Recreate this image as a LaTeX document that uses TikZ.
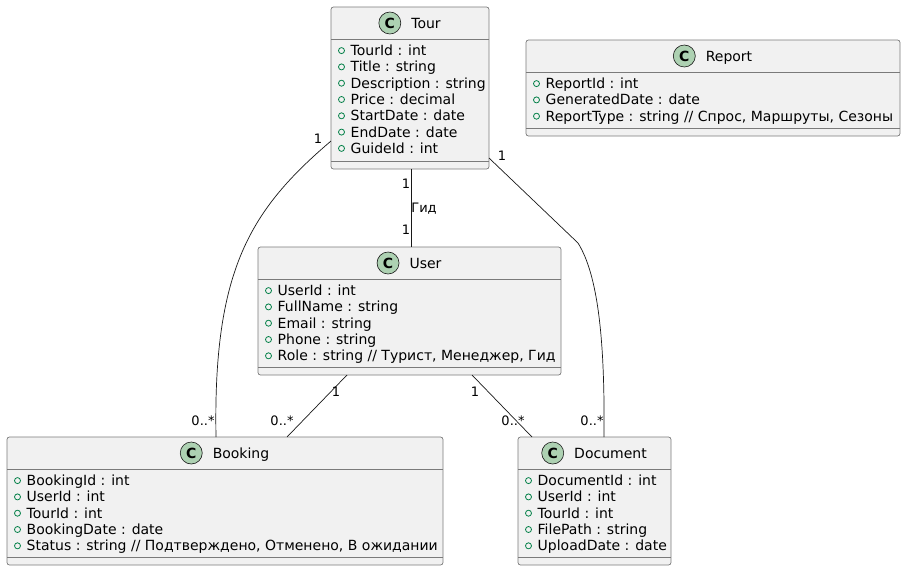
\documentclass[tikz,border=0pt]{standalone}
\usepackage{fontspec}
\setmainfont{DejaVu Sans}
\usetikzlibrary{positioning}

\definecolor{boxfill}{HTML}{F1F1F1}
\definecolor{boxline}{HTML}{7A7A7A}
\definecolor{iconline}{HTML}{181818}
\definecolor{iconfill}{HTML}{ADD1B2}
\definecolor{markgreen}{HTML}{038048}
\definecolor{assocline}{HTML}{181818}

\tikzset{
  umlbox/.style={rectangle, draw=boxline, fill=boxfill, line width=0.7pt,
    rounded corners=2.5pt, inner sep=0pt, outer sep=0pt},
  boxsep/.style={draw=boxline, line width=0.7pt},
  clsname/.style={anchor=base, inner sep=0pt, text height=10.2pt, text depth=0pt,
    font=\fontsize{14}{16}\selectfont},
  clsicon/.style={circle, draw=iconline, fill=iconfill, line width=0.6pt,
    minimum size=22pt, inner sep=0pt, font=\fontsize{14}{16}\selectfont\bfseries},
  attr/.style={anchor=base west, inner sep=0pt, font=\fontsize{14}{16}\selectfont},
  attrmark/.style={draw=markgreen, line width=0.8pt},
  assoc/.style={draw=assocline, line width=0.7pt},
  mult/.style={inner sep=0pt, text height=9.5pt, text depth=0pt,
    font=\fontsize{13}{15}\selectfont},
}

% header, separators and attributes of a class box
\newcommand{\classparts}[3]{%
  \draw[boxsep] ([yshift=-32pt]#1.north west) -- ([yshift=-32pt]#1.north east);
  \draw[boxsep] ([yshift=8pt]#1.south west) -- ([yshift=8pt]#1.south east);
  \node[clsname] (#1-name) at ([xshift=16pt, yshift=-21.1pt]#1.north) {#2};
  \node[clsicon, left=10pt of #1-name] (#1-icon) {C};
  \foreach [count=\i, evaluate=\i as \dy using 48.6+(\i-1)*16.3] \a in {#3} {
    \node[attr] (#1-a\i) at ([xshift=19.5pt, yshift=-\dy pt]#1.north west) {\a};
    \draw[attrmark] ([xshift=-9pt, yshift=5pt]#1-a\i.base west) circle (3pt);
  }%
}

\begin{document}
\begin{tikzpicture}[x=1pt, y=-1pt]
  \useasboundingbox (0,0) rectangle (906,571);

  % classes
  \node[umlbox, minimum width=158pt, minimum height=162pt] (tour) at (410,88) {};
  \node[umlbox, minimum width=374pt, minimum height=96pt] (report) at (713,88) {};
  \node[umlbox, minimum width=303pt, minimum height=128pt] (user) at (409.5,311) {};
  \node[umlbox, minimum width=436pt, minimum height=128pt] (booking) at (225,501) {};
  \node[umlbox, minimum width=153pt, minimum height=128pt] (document) at (594.5,501) {};

  \classparts{tour}{Tour}{TourId : int, Title : string, Description : string,
    Price : decimal, StartDate : date, EndDate : date, GuideId : int}
  \classparts{report}{Report}{ReportId : int, GeneratedDate : date,
    {ReportType : string // Спрос, Маршруты, Сезоны}}
  \classparts{user}{User}{UserId : int, FullName : string, Email : string,
    Phone : string, {Role : string // Турист, Менеджер, Гид}}
  \classparts{booking}{Booking}{BookingId : int, UserId : int, TourId : int,
    BookingDate : date, {Status : string // Подтверждено, Отменено, В ожидании}}
  \classparts{document}{Document}{DocumentId : int, UserId : int, TourId : int,
    FilePath : string, UploadDate : date}

  % associations
  \draw[assoc] ([xshift=1pt]tour.south) -- ([xshift=1.5pt]user.north);
  \draw[assoc] ([yshift=-53pt]tour.west) .. controls (250,210) and (213,270)
    .. ([xshift=-9pt]booking.north);
  \draw[assoc] ([yshift=-70pt]tour.east) -- (578,243) .. controls (598,275) and (605,340)
    .. ([xshift=9.5pt]document.north);
  \draw[assoc] ([xshift=-62.5pt]user.south) -- ([xshift=62pt]booking.north);
  \draw[assoc] ([xshift=62.5pt]user.south) -- ([xshift=-62.5pt]document.north);

  % multiplicities
  \node[mult] (m-tb1) at (318,139) {1};
  \node[mult] (m-tb2) at (203,421) {0..*};
  \node[mult] (m-tu1) at (406,184) {1};
  \node[mult] (m-tu)  at (424,208) {Гид};
  \node[mult] (m-tu2) at (406,230) {1};
  \node[mult] (m-td1) at (502,156) {1};
  \node[mult] (m-td2) at (592,421) {0..*};
  \node[mult] (m-ub1) at (336,392) {1};
  \node[mult] (m-ub2) at (282,421) {0..*};
  \node[mult] (m-ud1) at (475,392) {1};
  \node[mult] (m-ud2) at (513,421) {0..*};
\end{tikzpicture}
\end{document}
